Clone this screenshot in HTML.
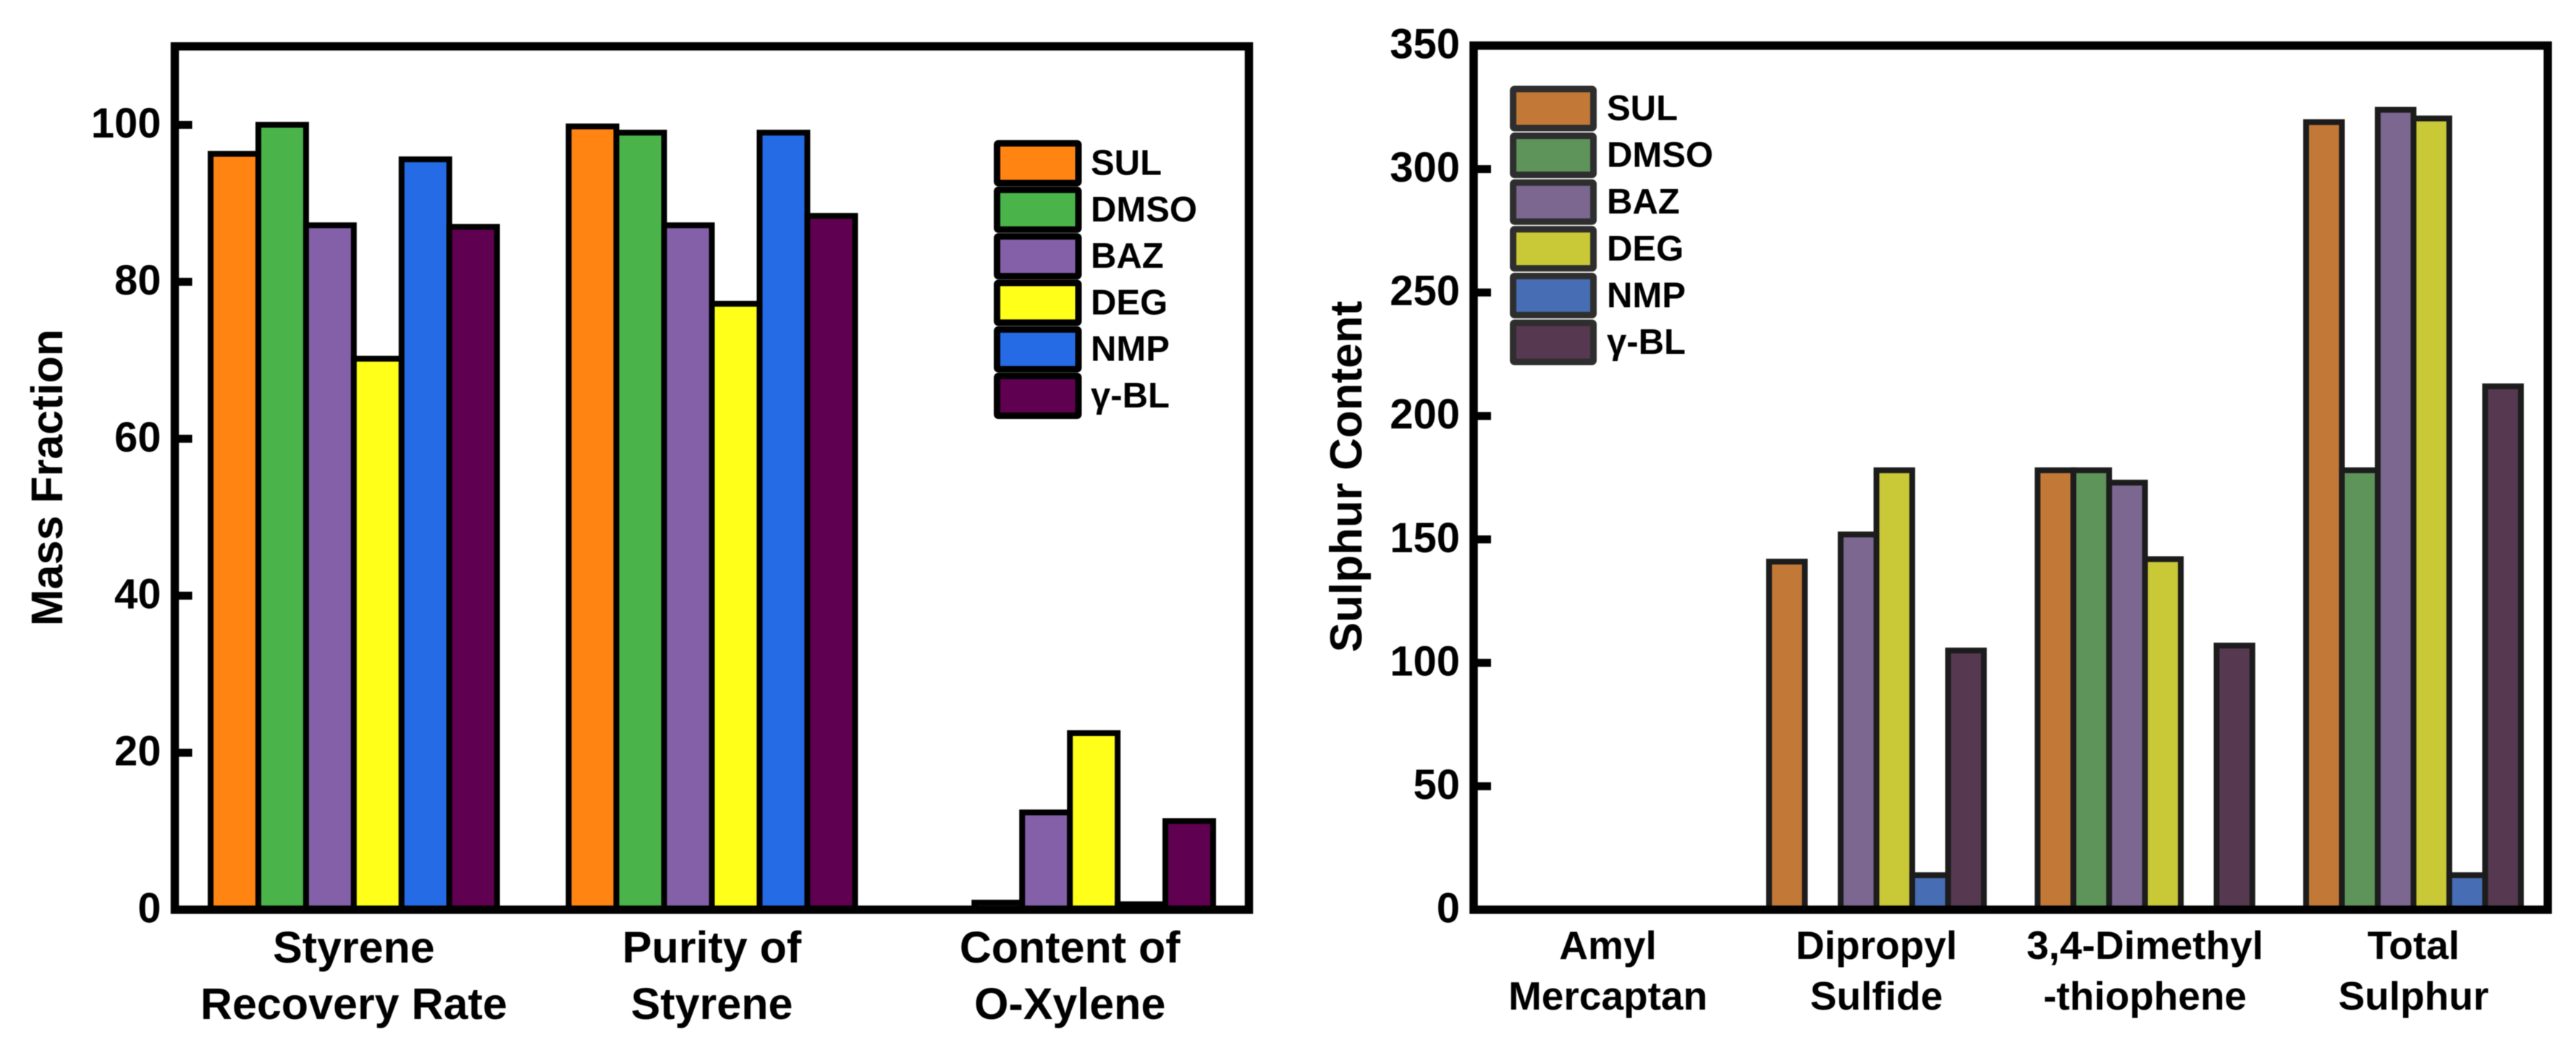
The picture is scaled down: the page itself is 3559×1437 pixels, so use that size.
<!DOCTYPE html>
<html>
<head>
<meta charset="utf-8">
<style>
html,body{margin:0;padding:0;background:#fff;width:3559px;height:1437px;overflow:hidden}
svg{display:block;filter:blur(0.6px)}
text{font-family:"Liberation Sans",Arial,sans-serif;font-weight:bold;fill:#000}
</style>
</head>
<body>
<svg id="figure" xmlns="http://www.w3.org/2000/svg" width="3559" height="1437" viewBox="0 0 3559 1437"></svg>
<script>
const seriesNames = ["SUL", "DMSO", "BAZ", "DEG", "NMP", "γ-BL"];

const leftCategories = [["Styrene", "Recovery Rate"], ["Purity of", "Styrene"], ["Content of", "O-Xylene"]];
const leftSUL = [96.3, 99.8, 0];
const leftDMSO = [100, 99, 0.9];
const leftBAZ = [87.2, 87.2, 12.4];
const leftDEG = [70.2, 77.2, 22.5];
const leftNMP = [95.6, 99, 0.7];
const leftGBL = [87, 88.4, 11.3];
const leftTicks = [0, 20, 40, 60, 80, 100];

const rightCategories = [["Amyl", "Mercaptan"], ["Dipropyl", "Sulfide"], ["3,4-Dimethyl", "-thiophene"], ["Total", "Sulphur"]];
const rightSUL = [0, 141, 178, 319];
const rightDMSO = [0, 0, 178, 178];
const rightBAZ = [0, 152, 173, 324];
const rightDEG = [0, 178, 142, 320.5];
const rightNMP = [0, 14, 0, 14];
const rightGBL = [0, 105, 107, 212];
const rightTicks = [0, 50, 100, 150, 200, 250, 300, 350];

const svg = document.getElementById("figure");
const NS = "http://www.w3.org/2000/svg";

function make(tag, attrs, parent, content) {
  const el = document.createElementNS(NS, tag);
  for (const k in attrs) el.setAttribute(k, attrs[k]);
  if (content !== undefined) el.textContent = content;
  parent.appendChild(el);
  return el;
}

function drawPanel(cfg) {
  const g = make("g", {}, svg);
  
  

  const yOf = v => cfg.yZero - (v - cfg.yMin) * (cfg.yZero - cfg.yTop) / (cfg.yMax - cfg.yMin);
  const groupWidth = (cfg.xRight - cfg.xLeft) / (cfg.categories.length);
  const barWidth = groupWidth / (cfg.series.length + cfg.gapBars);
  const groupStart = i => cfg.xLeft + groupWidth * i + barWidth * cfg.gapBars / 2;
  const groupCenter = i => cfg.xLeft + groupWidth * (i + 0.5);

  cfg.series.forEach((values, s) => {
    values.forEach((v, c) => {
      const bar = make("rect", {
        x: groupStart(c) + s * barWidth,
        y: yOf(v),
        width: barWidth,
        height: yOf(0) - yOf(v),
        fill: cfg.colors[s],
        stroke: cfg.barStroke,
        "stroke-width": 8
      }, g);
      
      
    });
  });

  const frame = make("rect", {
    x: cfg.xLeft,
    y: cfg.yTop,
    width: cfg.xRight - cfg.xLeft,
    height: cfg.yZero - cfg.yTop,
    fill: "none",
    stroke: "#000",
    "stroke-width": 11.5
  }, g);
  
  

  cfg.ticks.forEach(t => {
    if (t !== cfg.yMin && t !== cfg.yMax) {
      const mark = make("line", {
        x1: cfg.xLeft,
        x2: cfg.xLeft + 24,
        y1: yOf(t),
        y2: yOf(t),
        stroke: "#000",
        "stroke-width": 11
      }, g);
      
      
    }
    const label = make("text", {
      x: cfg.xLeft - 19,
      y: yOf(t) + cfg.tickLabelDy,
      "text-anchor": "end",
      "font-size": 58
    }, g, String(t));
    
    
  });

  cfg.categories.forEach((lines, c) => {
    lines.forEach((line, n) => {
      const label = make("text", {
        x: groupCenter(c),
        y: cfg.catBaseline + n * cfg.catLeading,
        "text-anchor": "middle",
        "font-size": cfg.catSize
      }, g, line);
      
      
    });
  });

  const title = make("text", {
    transform: "translate(" + cfg.titleX + "," + cfg.titleY + ") rotate(-90)",
    "text-anchor": "middle",
    "font-size": cfg.titleSize
  }, g, cfg.title);
  
  

  const legend = make("g", {}, g);
  
  
  seriesNames.forEach((name, s) => {
    const swatch = make("rect", {
      x: cfg.legendX,
      y: cfg.legendY + s * cfg.legendPitch,
      width: cfg.legendW,
      height: cfg.legendH,
      rx: 2,
      fill: cfg.colors[s],
      stroke: cfg.legendStroke,
      "stroke-width": cfg.legendStrokeWidth
    }, legend);
    
    
    const entry = make("text", {
      x: cfg.legendTextX,
      y: cfg.legendY + s * cfg.legendPitch + cfg.legendH / 2 + 16,
      "font-size": 49
    }, legend, name);
    
    
  });
}

drawPanel({
  key: "mass-fraction",
  title: "Mass Fraction",
  categories: leftCategories,
  series: [leftSUL, leftDMSO, leftBAZ, leftDEG, leftNMP, leftGBL],
  ticks: leftTicks,
  colors: ["#FF8412", "#4AB34A", "#8360A8", "#FFFF1A", "#256BE6", "#5F0050"],
  barStroke: "#000",
  xLeft: 241.5, xRight: 1725.5, yTop: 64, yZero: 1257, yMin: 0, yMax: 110,
  gapBars: 1.5,
  tickLabelDy: 17.5,
  catBaseline: 1330, catLeading: 78, catSize: 61,
  titleX: 86, titleY: 660, titleSize: 61,
  legendX: 1377.5, legendY: 198, legendW: 112.5, legendH: 55, legendPitch: 64.3,
  legendStroke: "#000", legendStrokeWidth: 9, legendTextX: 1507
});

drawPanel({
  key: "sulphur-content",
  title: "Sulphur Content",
  categories: rightCategories,
  series: [rightSUL, rightDMSO, rightBAZ, rightDEG, rightNMP, rightGBL],
  ticks: rightTicks,
  colors: ["#C27937", "#5E9459", "#7B6790", "#C9C837", "#476EB4", "#563851"],
  barStroke: "#1c1c1c",
  xLeft: 2036, xRight: 3520, yTop: 63, yZero: 1257, yMin: 0, yMax: 350,
  gapBars: 1.5,
  tickLabelDy: 17.5,
  catBaseline: 1325, catLeading: 70, catSize: 55,
  titleX: 1881, titleY: 658.5, titleSize: 62,
  legendX: 2090.5, legendY: 123, legendW: 111, legendH: 54, legendPitch: 64.6,
  legendStroke: "#2e2e2e", legendStrokeWidth: 9, legendTextX: 2220
});
</script>
</body>
</html>
